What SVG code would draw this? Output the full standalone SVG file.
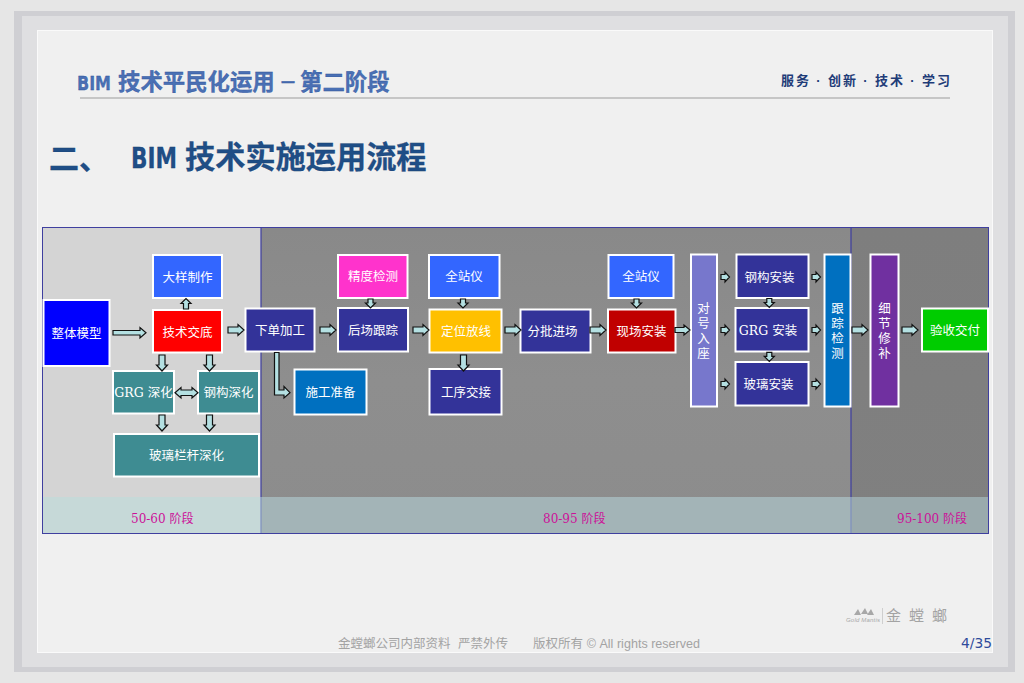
<svg xmlns="http://www.w3.org/2000/svg" width="1024" height="683" viewBox="0 0 1024 683">
<style>
text{font-family:"DejaVu Serif","Noto Sans CJK SC",serif}
.n{stroke:#fff;stroke-width:2}
.t{fill:#fff;font-size:12.5px;text-anchor:middle}
.p{fill:#cc1199;font-size:12px}
.a{fill:#b4e0e2;stroke:#111;stroke-width:1.2}
.h1{font-family:"DejaVu Sans","Noto Sans CJK SC",sans-serif;font-weight:700;fill:#4a70b4;stroke:#2a4f9a;stroke-width:.3}
.h2{font-family:"DejaVu Sans","Noto Sans CJK SC",sans-serif;font-weight:700;fill:#1f4e86;stroke:#174072;stroke-width:.3}
.f{font-family:"Liberation Sans","Noto Sans CJK SC",sans-serif;fill:#a3a3a3;font-size:12.5px}
</style>
<defs>
<linearGradient id="g2" x1="0" y1="0" x2="0" y2="1"><stop offset="0" stop-color="#898989"/><stop offset=".5" stop-color="#8e8e8e"/><stop offset="1" stop-color="#8c8c8c"/></linearGradient>
<linearGradient id="g3" x1="0" y1="0" x2="0" y2="1"><stop offset="0" stop-color="#7e7e7e"/><stop offset="1" stop-color="#808080"/></linearGradient>
<path id="ar" class="a" d="M0-3H10V-5.500L16 0 10 5.500V3H0Z"/>
<path id="ad" class="a" d="M-3 0V10H-5.500L0 16 5.500 10H3V0Z"/>
<path id="as" class="a" d="M0-2.500H4V-5L8.500 0 4 5V2.500H0Z"/>
<path id="av" class="a" d="M-2.500 0V4H-5L0 9 5 4H2.500V0Z"/>
</defs>

<rect width="1024" height="683" fill="#e6e6e6"/>
<rect x="14" y="11" width="1001" height="661" fill="#cfcfd3"/>
<rect x="22" y="16" width="986" height="651" fill="#dfdfe1"/>
<rect x="37.500" y="30.500" width="955" height="622" fill="#f0f0f0" stroke="#fafafa" stroke-width="1"/>

<g id="header">
<text class="h1" x="77" y="90" font-size="20" textLength="34" lengthAdjust="spacingAndGlyphs">BIM</text>
<text class="h1" x="118" y="90" font-size="22.400">技术平民化运用</text>
<text class="h1" x="279" y="89" font-size="18">－</text>
<text class="h1" x="300" y="90" font-size="22.400">第二阶段</text>
<rect x="80" y="97" width="870" height="2" fill="#c6c6c6"/>
<text x="781" y="84.500" font-size="13" font-weight="700" fill="#1f3c78" style="font-family:'Liberation Sans','Noto Sans CJK SC',sans-serif" xml:space="preserve" textLength="169">服务 · 创新 · 技术 · 学习</text>
<text class="h2" x="49" y="169" font-size="30">二、</text>
<text class="h2" x="131" y="168" font-size="28" textLength="46" lengthAdjust="spacingAndGlyphs">BIM</text>
<text class="h2" x="185" y="168" font-size="30.200">技术实施运用流程</text>
</g>

<g id="phases">
<rect x="43" y="228" width="218" height="305" fill="#d4d4d4"/>
<rect x="261" y="228" width="590" height="305" fill="url(#g2)"/>
<rect x="851" y="228" width="137" height="305" fill="url(#g3)"/>
<rect x="43" y="497" width="218" height="36" fill="#c6d9d8"/>
<rect x="261" y="497" width="590" height="36" fill="#a3b4b7"/>
<rect x="851" y="497" width="137" height="36" fill="#9aaaad"/>
<rect x="42.500" y="227.500" width="946" height="306" fill="none" stroke="#3f3f9f"/>
<path d="M261 228V497M851 228V497" stroke="#3f3f9f" stroke-width="1.200" fill="none"/>
<path d="M261 497V533M851 497V533" stroke="#7f8fbf" stroke-width="1.200" fill="none"/>
<text class="p" x="131" y="523">50-60 阶段</text>
<text class="p" x="543" y="523">80-95 阶段</text>
<text class="p" x="897" y="523">95-100 阶段</text>
</g>

<g id="n1"><rect class="n" x="43.500" y="300" width="66" height="66" fill="#0000ff"/><text class="t" x="76.500" y="338">整体模型</text></g>
<g id="n2"><rect class="n" x="153" y="255" width="69" height="43" fill="#3366ff"/><text class="t" x="187.500" y="281.500">大样制作</text></g>
<g id="n3"><rect class="n" x="153" y="310" width="69" height="42.500" fill="#ff0000"/><text class="t" x="187.500" y="336.500">技术交底</text></g>
<g id="n4"><rect class="n" x="245.500" y="308.500" width="69" height="43" fill="#333399"/><text class="t" x="280" y="334.500">下单加工</text></g>
<g id="n5"><rect class="n" x="113" y="371" width="61" height="42.500" fill="#3e8c92"/><text class="t" x="143.500" y="397">GRG 深化</text></g>
<g id="n6"><rect class="n" x="198" y="371" width="61" height="42.500" fill="#3e8c92"/><text class="t" x="228.500" y="397">钢构深化</text></g>
<g id="n7"><rect class="n" x="114" y="434" width="145" height="42.500" fill="#3e8c92"/><text class="t" x="186.500" y="460">玻璃栏杆深化</text></g>
<g id="n8"><rect class="n" x="294.500" y="369.500" width="72" height="45" fill="#0070c0"/><text class="t" x="330.500" y="397">施工准备</text></g>
<g id="n9"><rect class="n" x="338" y="255" width="69.500" height="43" fill="#ff33cc"/><text class="t" x="373" y="280.500">精度检测</text></g>
<g id="n10"><rect class="n" x="338" y="308" width="70" height="43.500" fill="#333399"/><text class="t" x="373" y="334.500">后场跟踪</text></g>
<g id="n11"><rect class="n" x="429" y="255" width="70.500" height="43" fill="#3366ff"/><text class="t" x="464" y="280.500">全站仪</text></g>
<g id="n12"><rect class="n" x="429.500" y="309.500" width="72" height="43" fill="#ffc000"/><text class="t" x="466" y="335.500">定位放线</text></g>
<g id="n13"><rect class="n" x="520.500" y="309.500" width="70" height="43" fill="#333399"/><text class="t" x="552.500" y="335.500">分批进场</text></g>
<g id="n14"><rect class="n" x="429.500" y="369" width="72" height="45.500" fill="#333399"/><text class="t" x="466" y="397">工序交接</text></g>
<g id="n15"><rect class="n" x="608.500" y="255" width="65" height="43" fill="#3366ff"/><text class="t" x="641" y="280.500">全站仪</text></g>
<g id="n16"><rect class="n" x="608" y="309.500" width="67.500" height="43" fill="#c00000"/><text class="t" x="641.500" y="335.500">现场安装</text></g>
<g id="n17"><rect class="n" x="691" y="254.500" width="26" height="152" fill="#7777cc"/><text class="t" x="703.500" y="313">对</text><text class="t" x="703.500" y="328">号</text><text class="t" x="703.500" y="343">入</text><text class="t" x="703.500" y="358">座</text></g>
<g id="n18"><rect class="n" x="736.500" y="254.500" width="72" height="43.500" fill="#333399"/><text class="t" x="769.500" y="281.500">钢构安装</text></g>
<g id="n19"><rect class="n" x="735.500" y="308" width="73" height="43.500" fill="#333399"/><text class="t" x="768" y="334.500">GRG 安装</text></g>
<g id="n20"><rect class="n" x="735.500" y="362" width="73" height="43.500" fill="#333399"/><text class="t" x="768.500" y="388.500">玻璃安装</text></g>
<g id="n21"><rect class="n" x="824.500" y="254.500" width="26" height="152" fill="#0070c0"/><text class="t" x="837.500" y="313">跟</text><text class="t" x="837.500" y="328">踪</text><text class="t" x="837.500" y="343">检</text><text class="t" x="837.500" y="358">测</text></g>
<g id="n22"><rect class="n" x="870.500" y="254.500" width="28" height="152" fill="#7030a0"/><text class="t" x="884.500" y="313">细</text><text class="t" x="884.500" y="328">节</text><text class="t" x="884.500" y="343">修</text><text class="t" x="884.500" y="358">补</text></g>
<g id="n23"><rect class="n" x="922" y="308.500" width="66" height="43" fill="#00cc00"/><text class="t" x="955" y="334.500">验收交付</text></g>

<g id="connectors">
<path class="a" d="M113 330.500H140V327.500L146 332.800 140 338V335H113Z"/>
<use href="#ar" x="228" y="330"/>
<use href="#ar" x="320" y="330"/>
<use href="#ar" x="413" y="330"/>
<use href="#ar" x="505" y="330"/>
<use href="#ar" x="590" y="330"/>
<path class="a" d="M675 327.500H684V325L690 330 684 335V332.500H675Z"/>
<use href="#ar" x="852" y="330"/>
<use href="#ar" x="902" y="330"/>
<path class="a" d="M183.500 309V303.500H181L186 298.500 191 303.500H188.500V309Z"/>
<use href="#ad" x="162" y="355"/>
<use href="#ad" x="209.500" y="355"/>
<use href="#ad" x="162" y="415"/>
<use href="#ad" x="209.500" y="415"/>
<use href="#ad" x="463.500" y="355"/>
<path class="a" d="M175 392.700L181 387.500V390H192V387.500L198 392.700 192 398V395.500H181V398Z"/>
<path class="a" d="M274.500 352.500H279V390H284V386.500L290 392.700 284 398V395H274.500Z"/>
<use href="#av" x="370.500" y="299"/>
<use href="#av" x="463" y="299"/>
<use href="#av" x="636.500" y="299"/>
<use href="#av" x="769.300" y="298.500"/>
<use href="#av" x="769.300" y="352.300"/>
<use href="#as" x="721" y="277"/>
<use href="#as" x="721" y="330"/>
<use href="#as" x="721" y="384"/>
<use href="#as" x="812" y="277"/>
<use href="#as" x="812" y="330"/>
<use href="#as" x="812" y="384"/>
</g>

<g id="logo">
<path d="M854 615L858 609 861 615ZM861 614L865 608 868 614ZM867 615L871 609 874 615Z" fill="#a8a8a8"/>
<text x="846" y="622" font-size="6" font-style="italic" fill="#a8a8a8" style="font-family:'Liberation Sans',sans-serif" textLength="34">Gold Mantis</text>
<path d="M882.500 608V624" stroke="#cfcfcf" stroke-width="1"/>
<text x="886" y="621" font-size="15" fill="#a3a3a3" style="font-family:'Noto Sans CJK SC',sans-serif">金</text>
<text x="909" y="621" font-size="15" fill="#a3a3a3" style="font-family:'Noto Sans CJK SC',sans-serif">螳</text>
<text x="932" y="621" font-size="15" fill="#a3a3a3" style="font-family:'Noto Sans CJK SC',sans-serif">螂</text>
</g>

<g id="footer">
<text class="f" x="338" y="648">金螳螂公司内部资料</text>
<text class="f" x="458" y="648">严禁外传</text>
<text class="f" x="533" y="648" textLength="167">版权所有 © All rights reserved</text>
<text x="961" y="648" font-size="14" fill="#2f4b9b" style="font-family:'DejaVu Sans',sans-serif" textLength="31" lengthAdjust="spacingAndGlyphs">4/35</text>
</g>
</svg>
